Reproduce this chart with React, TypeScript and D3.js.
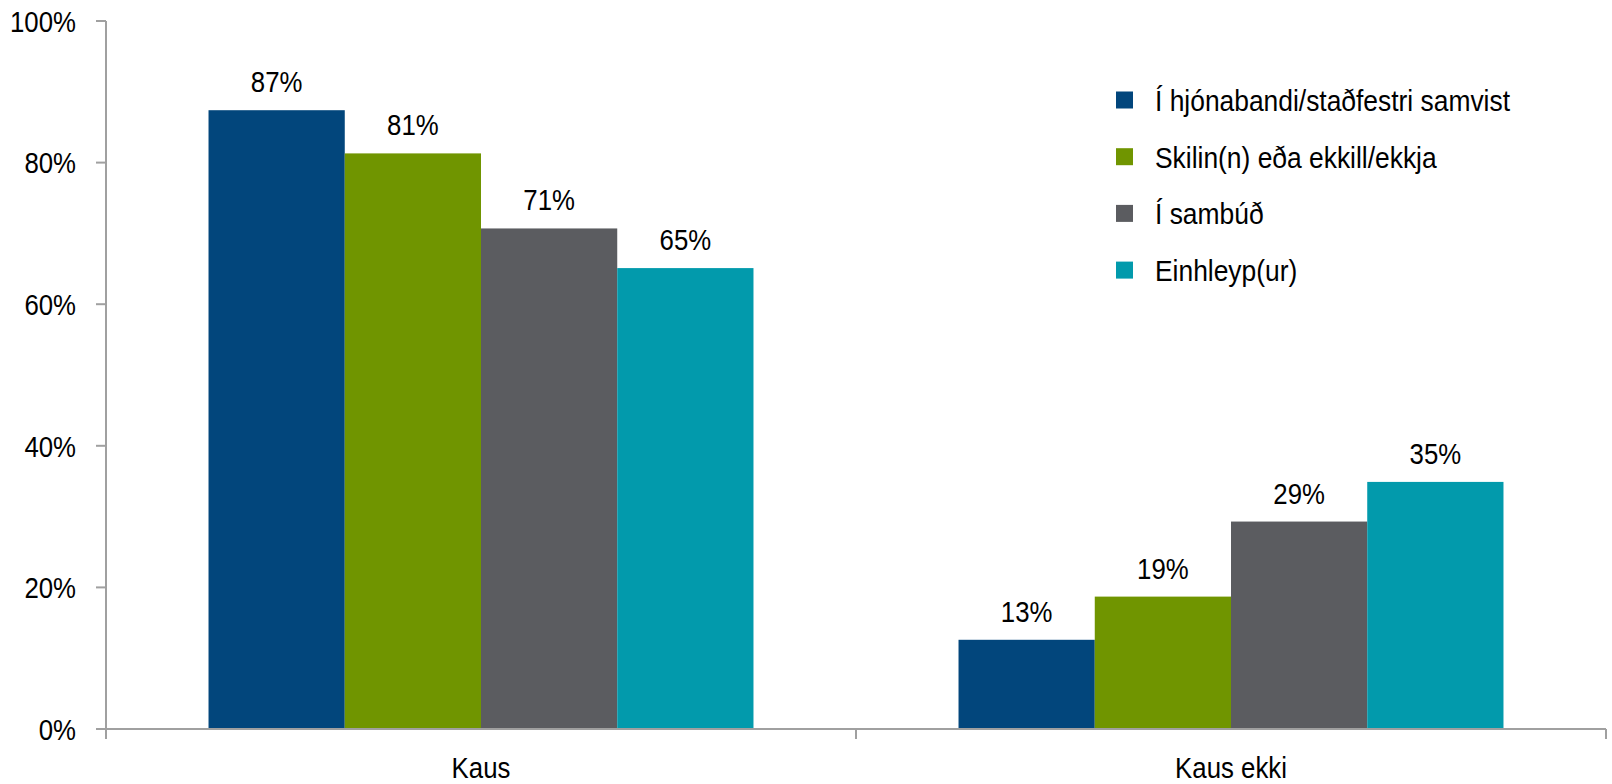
import React from "react";
import * as d3 from "d3";

const categories = ["Kaus", "Kaus ekki"];
const seriesNames = [
  "Í hjónabandi/staðfestri samvist",
  "Skilin(n) eða ekkill/ekkja",
  "Í sambúð",
  "Einhleyp(ur)",
];
const kausValues = [0.874, 0.813, 0.707, 0.651];
const kausEkkiValues = [0.126, 0.187, 0.293, 0.349];
const yTicks = [0, 0.2, 0.4, 0.6, 0.8, 1.0];
const colors = ["#02467c", "#709500", "#5b5c60", "#029aac"];

const W = 1612;
const H = 784;
const FONT = "'Liberation Sans', Arial, sans-serif";
const SX = 0.86;

function T(props: {
  x: number;
  y: number;
  anchor?: "start" | "middle" | "end";
  size?: number;
  sx?: number;
  dy?: string;
  children: React.ReactNode;
}) {
  const { x, y, anchor = "start", size = 30, sx = SX, dy, children } = props;
  return (
    <text
      transform={`translate(${x},${y}) scale(${sx},1)`}
      textAnchor={anchor}
      fontSize={size}
      dy={dy}
      fill="#000"
    >
      {children}
    </text>
  );
}

export default function App() {
  const values = [kausValues, kausEkkiValues];
  const x0 = d3.scaleBand<string>().domain(categories).range([106, 1606]).padding(0);
  const bw = x0.bandwidth();
  const gap = bw * 0.1367;
  const x1 = d3.scaleBand<string>().domain(seriesNames).range([gap, bw - gap]).padding(0);
  const y = d3.scaleLinear().domain([0, 1]).range([729, 21]);
  const fmt = d3.format(".0%");
  const axisColor = "#a0a0a0";

  return (
    <svg
      width={W}
      height={H}
      style={{ position: "absolute", left: 0, top: 0, background: "#fff" }}
      fontFamily={FONT}
    >
      {/* bars */}
      {categories.map((c, ci) => (
        <g key={c} transform={`translate(${x0(c)},0)`}>
          {seriesNames.map((s, si) => {
            const v = values[ci][si];
            return (
              <g key={s}>
                <rect
                  x={x1(s)}
                  y={y(v)}
                  width={x1.bandwidth()}
                  height={y(0) - y(v)}
                  fill={colors[si]}
                />
                <T x={(x1(s) as number) + x1.bandwidth() / 2} y={y(v) - 18} anchor="middle">
                  {fmt(v)}
                </T>
              </g>
            );
          })}
        </g>
      ))}
      {/* y axis */}
      <line x1={106} x2={106} y1={y(1)} y2={y(0) + 10} stroke={axisColor} strokeWidth={2} />
      {yTicks.map((t) => (
        <g key={t}>
          <line x1={96} x2={106} y1={y(t)} y2={y(t)} stroke={axisColor} strokeWidth={2} />
          <T x={76} y={y(t)} dy="0.36em" anchor="end">
            {fmt(t)}
          </T>
        </g>
      ))}
      {/* x axis */}
      <line x1={96} x2={1606} y1={y(0)} y2={y(0)} stroke={axisColor} strokeWidth={2} />
      {[...categories.map((c) => x0(c) as number), 1606].map((xv, i) => (
        <line key={i} x1={xv} x2={xv} y1={y(0)} y2={y(0) + 10} stroke={axisColor} strokeWidth={2} />
      ))}
      {categories.map((c) => (
        <T key={c} x={(x0(c) as number) + bw / 2} y={778} anchor="middle">
          {c}
        </T>
      ))}
      {/* legend */}
      {seriesNames.map((s, i) => {
        const cy = 100 + i * 56.7;
        return (
          <g key={s}>
            <rect x={1116} y={cy - 8.5} width={17} height={17} fill={colors[i]} />
            <T x={1155} y={cy} dy="0.36em" sx={0.88}>
              {s}
            </T>
          </g>
        );
      })}
    </svg>
  );
}
